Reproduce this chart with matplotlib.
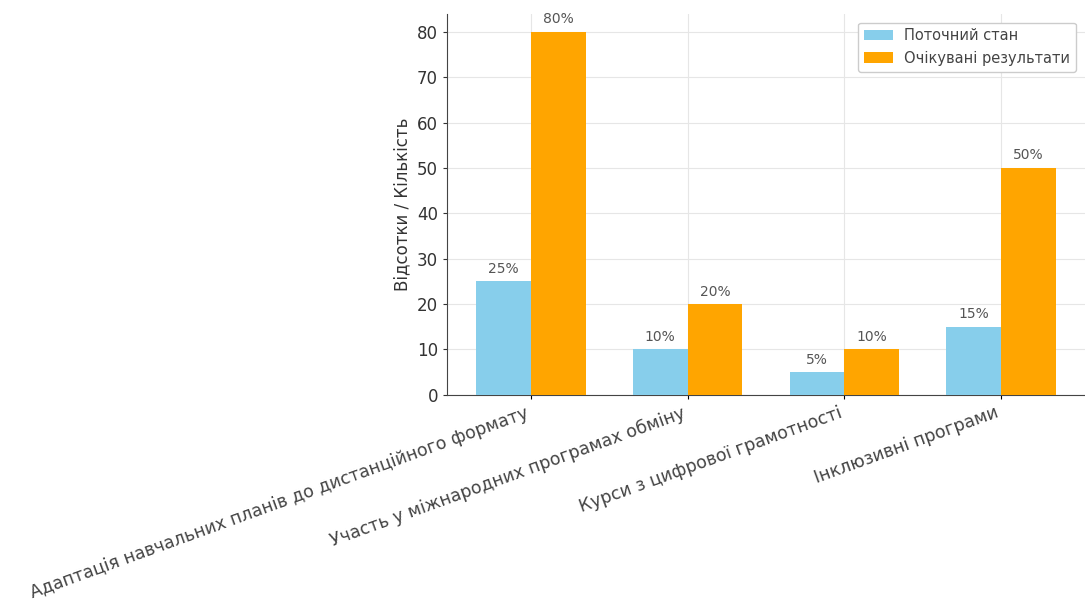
import matplotlib
matplotlib.use("Agg")
import matplotlib.pyplot as plt
import numpy as np

categories = [
    "Адаптація навчальних планів до дистанційного формату",
    "Участь у міжнародних програмах обміну",
    "Курси з цифрової грамотності",
    "Інклюзивні програми",
]
current = [25, 10, 5, 15]
expected = [80, 20, 10, 50]
series_names = ["Поточний стан", "Очікувані результати"]

plt.rcParams['font.family'] = ['DejaVu Sans']
fig = plt.figure(figsize=(10.85, 6), dpi=100)
ax = fig.add_axes([0.412, 0.342, 0.588, 0.635])

x = np.arange(len(categories))
w = 0.35
b1 = ax.bar(x - w/2, current, w, color='skyblue', label=series_names[0], zorder=3)
b2 = ax.bar(x + w/2, expected, w, color='orange', label=series_names[1], zorder=3)

for bars, vals in ((b1, current), (b2, expected)):
    for rect, v in zip(bars, vals):
        ax.annotate(f"{v}%", (rect.get_x() + rect.get_width()/2, rect.get_height()),
                    xytext=(0, 4), textcoords='offset points', ha='center', va='bottom',
                    fontsize=10, color='#555555')

ax.set_xticks(x)
ax.set_xticklabels(categories, rotation=20, ha='right', fontsize=12.5, color='#444444')
ax.set_ylabel("Відсотки / Кількість", fontsize=12, color='#333333')
ax.tick_params(axis='y', labelsize=12, colors='#333333', length=3)
ax.tick_params(axis='x', length=3)
ax.grid(True, color='#e6e6e6', linewidth=0.8, zorder=0)
for s in ['top', 'right']:
    ax.spines[s].set_visible(False)
for s in ['left', 'bottom']:
    ax.spines[s].set_color('#444444')
leg = ax.legend(loc='upper right', fontsize=10.5, framealpha=1, borderaxespad=0.6)
for t in leg.get_texts():
    t.set_color('#444444')

fig.savefig("out.png", dpi=100)
